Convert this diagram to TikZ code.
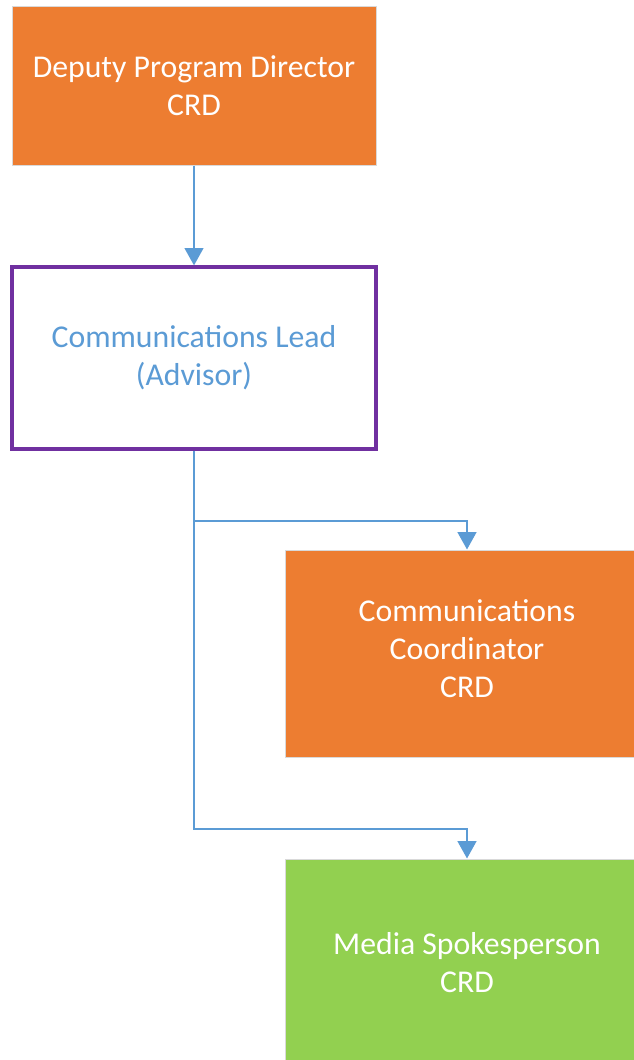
\documentclass[tikz,border=0pt]{standalone}
\usepackage{fontspec}
\setmainfont{Carlito}
\usetikzlibrary{arrows.meta}
\definecolor{borange}{HTML}{ED7D31}
\definecolor{bgreen}{HTML}{92D050}
\definecolor{bblue}{HTML}{5B9BD5}
\definecolor{bpurple}{HTML}{7030A0}
\definecolor{bedge}{HTML}{D9D9D9}
\tikzset{
  box/.style={rectangle, minimum width=273pt, inner sep=0pt, align=center,
    font=\fontsize{23.8}{28.5}\selectfont},
  filledbox/.style={box, fill=#1, draw=bedge, line width=0.75pt, text=white},
  leadbox/.style={box, fill=white, draw=bpurple, line width=2.4pt, text=bblue},
  conn/.style={draw=bblue, line width=1.6pt, -{Triangle[length=13pt,width=14pt]}},
}
\begin{document}
\begin{tikzpicture}[x=0.75pt,y=-0.75pt]
\clip (0,0) rectangle (634,1060);
\useasboundingbox (0,0) rectangle (634,1060);
\fill[white] (0,0) rectangle (634,1060);
\node[filledbox=borange, minimum height=119.25pt] (dpd) at (194,85.5) {Deputy Program Director\\CRD};
\node[leadbox, minimum height=136.5pt] (lead) at (194,358) {Communications Lead\\(Advisor)};
\node[filledbox=borange, minimum height=155.25pt] (coord) at (467,653.5) {Communications\\Coordinator\\CRD\rule[-7.5pt]{0pt}{0pt}};
\node[filledbox=bgreen, minimum height=155.25pt] (media) at (467,962.5) {Media Spokesperson\\CRD};
\coordinate (j1) at (194,521);
\coordinate (j2) at (194,829);
\draw[conn] (dpd.south) -- (lead.north);
\draw[conn] (lead.south) -- (j1) -| (coord.north);
\draw[conn] (j1) -- (j2) -| (media.north);
\end{tikzpicture}
\end{document}
